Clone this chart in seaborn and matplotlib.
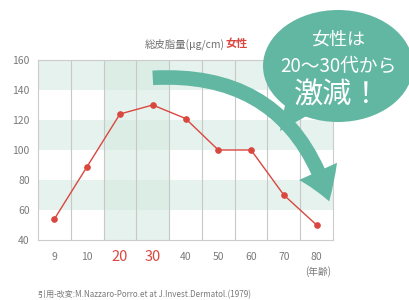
import matplotlib
matplotlib.use("Agg")
import matplotlib.pyplot as plt
from matplotlib.patches import FancyArrowPatch, ArrowStyle, Ellipse, Polygon
import seaborn as sns
import pandas as pd

# data
ages = ["9", "10", "20", "30", "40", "50", "60", "70", "80"]
sebum = [54, 89, 124, 130, 121, 100, 100, 70, 50]
y_ticks = [40, 60, 80, 100, 120, 140, 160]
bands = [(60, 80), (100, 120), (140, 160)]
hot_ages = ["20", "30"]

sns.set_theme(style="white")
plt.rcParams["font.family"] = ["Noto Sans CJK JP", "DejaVu Sans"]

red = "#d9473f"
grey = "#7a7a7a"
band_col = "#d3e9df"
teal = "#62b7a2"

df = pd.DataFrame({"age": ages, "sebum": sebum})

fig = plt.figure(figsize=(4.09, 3.0), dpi=100)
ax = fig.add_axes([38 / 409, 0.2, 295 / 409, 0.6])

for lo, hi in bands:
    ax.axhspan(lo, hi, color=band_col, alpha=0.55, lw=0, zorder=0)
for a in hot_ages:
    i = ages.index(a)
    ax.axvspan(i - 0.5, i + 0.5, color=band_col, alpha=0.55, lw=0, zorder=0)
for i in range(len(ages) - 1):
    ax.axvline(i + 0.5, color="#c8c8c8", lw=0.8, zorder=1)

sns.pointplot(data=df, x="age", y="sebum", order=ages, color=red,
              markers="o", markersize=4, linewidth=1.0, ax=ax, zorder=3)

ax.set_ylim(40, 160)
ax.set_xlim(-0.5, len(ages) - 0.5)
ax.set_yticks(y_ticks)
ax.set_xlabel("")
ax.set_ylabel("")
ax.tick_params(axis="y", length=0, pad=6, labelsize=7.5, labelcolor=grey)
ax.tick_params(axis="x", length=0, pad=12, labelsize=7.5, labelcolor=grey)
for lab in ax.get_xticklabels():
    lab.set_va("center")
    if lab.get_text() in hot_ages:
        lab.set_color(red)
        lab.set_fontsize(10.5)
for s in ax.spines.values():
    s.set_color("#cccccc")
    s.set_linewidth(0.8)

# overlay in pixel coordinates for decorations
ov = fig.add_axes([0, 0, 1, 1], zorder=5)
ov.set_xlim(0, 409)
ov.set_ylim(300, 0)
ov.axis("off")
ov.patch.set_alpha(0)

ov.text(225, 44, "総皮脂量(μg/cm)", ha="right", va="center", fontsize=7.5, color="#707070")
ov.text(226, 44, "女性", ha="left", va="center", fontsize=8, color=red, fontweight="bold")
ov.text(318, 272, "(年齢)", ha="center", va="center", fontsize=7, color=grey)
ov.text(38, 295, "引用-改変:M.Nazzaro-Porro.et at J.Invest.Dermatol.(1979)",
        ha="left", va="center", fontsize=5.8, color="#7a7a7a")

arrow = FancyArrowPatch((150, 78), (330, 204),
                        arrowstyle=ArrowStyle("Simple", head_length=23, head_width=30, tail_width=10.5),
                        connectionstyle="arc3,rad=-0.4", color=teal, lw=0, zorder=4)
ov.add_patch(arrow)

ov.add_patch(Ellipse((338, 66), 150, 112, color=teal, lw=0, zorder=6))
ov.add_patch(Polygon([(286, 100), (310, 114), (280, 131)], closed=True, color=teal, lw=0, zorder=6))
ov.text(338, 40, "女性は", ha="center", va="center", fontsize=13, color="white", zorder=7)
ov.text(338, 66, "20～30代から", ha="center", va="center", fontsize=13.5, color="white", zorder=7)
ov.text(338, 95, "激減！", ha="center", va="center", fontsize=21, color="white", zorder=7)

fig.savefig("out.png", dpi=100)
